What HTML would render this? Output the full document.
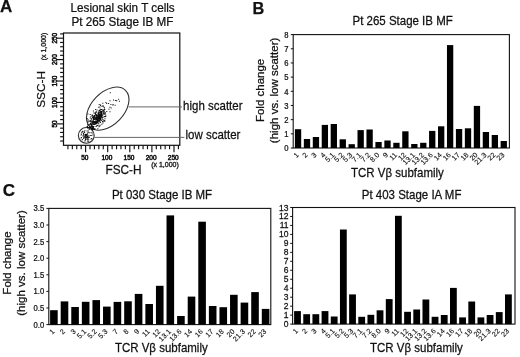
<!DOCTYPE html>
<html><head><meta charset="utf-8"><style>
html,body{margin:0;padding:0;background:#fff;}
svg{display:block;filter:blur(0.35px);}
text{font-family:"Liberation Sans", sans-serif;stroke:#111;stroke-width:0.25px;}
</style></head><body>
<svg width="520" height="357" viewBox="0 0 520 357">
<rect width="520" height="357" fill="#fff"/>
<text x="0.00" y="12.20" font-size="17" text-anchor="start" font-weight="bold" fill="#111">A</text>
<text x="252.40" y="14.40" font-size="16.3" text-anchor="start" font-weight="bold" fill="#111">B</text>
<text x="2.80" y="196.30" font-size="17" text-anchor="start" font-weight="bold" fill="#111">C</text>
<text x="0" y="0" font-size="12.2" text-anchor="middle" transform="translate(122.60 12.00) scale(0.9589930434782608 1)" fill="#111">Lesional skin T cells</text>
<text x="0" y="0" font-size="12.2" text-anchor="middle" transform="translate(122.40 26.00) scale(0.9589930434782608 1)" fill="#111">Pt 265 Stage IB MF</text>
<rect x="63.5" y="33.0" width="116.30000000000001" height="112.30000000000001" fill="none" stroke="#111" stroke-width="1.2"/>
<line x1="60.10" y1="141.02" x2="63.50" y2="141.02" stroke="#111" stroke-width="1.15"/>
<line x1="67.92" y1="145.30" x2="67.92" y2="149.30" stroke="#111" stroke-width="1.15"/>
<line x1="60.10" y1="136.73" x2="63.50" y2="136.73" stroke="#111" stroke-width="1.15"/>
<line x1="72.34" y1="145.30" x2="72.34" y2="149.30" stroke="#111" stroke-width="1.15"/>
<line x1="60.10" y1="132.45" x2="63.50" y2="132.45" stroke="#111" stroke-width="1.15"/>
<line x1="76.76" y1="145.30" x2="76.76" y2="149.30" stroke="#111" stroke-width="1.15"/>
<line x1="60.10" y1="128.16" x2="63.50" y2="128.16" stroke="#111" stroke-width="1.15"/>
<line x1="81.18" y1="145.30" x2="81.18" y2="149.30" stroke="#111" stroke-width="1.15"/>
<line x1="56.70" y1="123.88" x2="63.50" y2="123.88" stroke="#111" stroke-width="1.15"/>
<line x1="85.60" y1="145.30" x2="85.60" y2="152.30" stroke="#111" stroke-width="1.15"/>
<line x1="60.10" y1="119.59" x2="63.50" y2="119.59" stroke="#111" stroke-width="1.15"/>
<line x1="90.02" y1="145.30" x2="90.02" y2="149.30" stroke="#111" stroke-width="1.15"/>
<line x1="60.10" y1="115.31" x2="63.50" y2="115.31" stroke="#111" stroke-width="1.15"/>
<line x1="94.44" y1="145.30" x2="94.44" y2="149.30" stroke="#111" stroke-width="1.15"/>
<line x1="60.10" y1="111.02" x2="63.50" y2="111.02" stroke="#111" stroke-width="1.15"/>
<line x1="98.86" y1="145.30" x2="98.86" y2="149.30" stroke="#111" stroke-width="1.15"/>
<line x1="60.10" y1="106.74" x2="63.50" y2="106.74" stroke="#111" stroke-width="1.15"/>
<line x1="103.28" y1="145.30" x2="103.28" y2="149.30" stroke="#111" stroke-width="1.15"/>
<line x1="56.70" y1="102.45" x2="63.50" y2="102.45" stroke="#111" stroke-width="1.15"/>
<line x1="107.70" y1="145.30" x2="107.70" y2="152.30" stroke="#111" stroke-width="1.15"/>
<line x1="60.10" y1="98.17" x2="63.50" y2="98.17" stroke="#111" stroke-width="1.15"/>
<line x1="112.12" y1="145.30" x2="112.12" y2="149.30" stroke="#111" stroke-width="1.15"/>
<line x1="60.10" y1="93.88" x2="63.50" y2="93.88" stroke="#111" stroke-width="1.15"/>
<line x1="116.54" y1="145.30" x2="116.54" y2="149.30" stroke="#111" stroke-width="1.15"/>
<line x1="60.10" y1="89.60" x2="63.50" y2="89.60" stroke="#111" stroke-width="1.15"/>
<line x1="120.96" y1="145.30" x2="120.96" y2="149.30" stroke="#111" stroke-width="1.15"/>
<line x1="60.10" y1="85.31" x2="63.50" y2="85.31" stroke="#111" stroke-width="1.15"/>
<line x1="125.38" y1="145.30" x2="125.38" y2="149.30" stroke="#111" stroke-width="1.15"/>
<line x1="56.70" y1="81.03" x2="63.50" y2="81.03" stroke="#111" stroke-width="1.15"/>
<line x1="129.80" y1="145.30" x2="129.80" y2="152.30" stroke="#111" stroke-width="1.15"/>
<line x1="60.10" y1="76.74" x2="63.50" y2="76.74" stroke="#111" stroke-width="1.15"/>
<line x1="134.22" y1="145.30" x2="134.22" y2="149.30" stroke="#111" stroke-width="1.15"/>
<line x1="60.10" y1="72.46" x2="63.50" y2="72.46" stroke="#111" stroke-width="1.15"/>
<line x1="138.64" y1="145.30" x2="138.64" y2="149.30" stroke="#111" stroke-width="1.15"/>
<line x1="60.10" y1="68.17" x2="63.50" y2="68.17" stroke="#111" stroke-width="1.15"/>
<line x1="143.06" y1="145.30" x2="143.06" y2="149.30" stroke="#111" stroke-width="1.15"/>
<line x1="60.10" y1="63.89" x2="63.50" y2="63.89" stroke="#111" stroke-width="1.15"/>
<line x1="147.48" y1="145.30" x2="147.48" y2="149.30" stroke="#111" stroke-width="1.15"/>
<line x1="56.70" y1="59.60" x2="63.50" y2="59.60" stroke="#111" stroke-width="1.15"/>
<line x1="151.90" y1="145.30" x2="151.90" y2="152.30" stroke="#111" stroke-width="1.15"/>
<line x1="60.10" y1="55.32" x2="63.50" y2="55.32" stroke="#111" stroke-width="1.15"/>
<line x1="156.32" y1="145.30" x2="156.32" y2="149.30" stroke="#111" stroke-width="1.15"/>
<line x1="60.10" y1="51.03" x2="63.50" y2="51.03" stroke="#111" stroke-width="1.15"/>
<line x1="160.74" y1="145.30" x2="160.74" y2="149.30" stroke="#111" stroke-width="1.15"/>
<line x1="60.10" y1="46.75" x2="63.50" y2="46.75" stroke="#111" stroke-width="1.15"/>
<line x1="165.16" y1="145.30" x2="165.16" y2="149.30" stroke="#111" stroke-width="1.15"/>
<line x1="60.10" y1="42.46" x2="63.50" y2="42.46" stroke="#111" stroke-width="1.15"/>
<line x1="169.58" y1="145.30" x2="169.58" y2="149.30" stroke="#111" stroke-width="1.15"/>
<line x1="56.70" y1="38.18" x2="63.50" y2="38.18" stroke="#111" stroke-width="1.15"/>
<line x1="174.00" y1="145.30" x2="174.00" y2="152.30" stroke="#111" stroke-width="1.15"/>
<line x1="60.10" y1="33.89" x2="63.50" y2="33.89" stroke="#111" stroke-width="1.15"/>
<line x1="178.42" y1="145.30" x2="178.42" y2="149.30" stroke="#111" stroke-width="1.15"/>
<text x="57.30" y="123.88" font-size="6.5" text-anchor="middle" transform="rotate(-90 57.30 123.88)" fill="#111" style="stroke-width:0.5px">50</text>
<text x="84.80" y="160.30" font-size="6.5" text-anchor="middle" fill="#111" style="stroke-width:0.5px">50</text>
<text x="57.30" y="102.45" font-size="6.5" text-anchor="middle" transform="rotate(-90 57.30 102.45)" fill="#111" style="stroke-width:0.5px">100</text>
<text x="106.90" y="160.30" font-size="6.5" text-anchor="middle" fill="#111" style="stroke-width:0.5px">100</text>
<text x="57.30" y="81.03" font-size="6.5" text-anchor="middle" transform="rotate(-90 57.30 81.03)" fill="#111" style="stroke-width:0.5px">150</text>
<text x="129.00" y="160.30" font-size="6.5" text-anchor="middle" fill="#111" style="stroke-width:0.5px">150</text>
<text x="57.30" y="59.60" font-size="6.5" text-anchor="middle" transform="rotate(-90 57.30 59.60)" fill="#111" style="stroke-width:0.5px">200</text>
<text x="151.10" y="160.30" font-size="6.5" text-anchor="middle" fill="#111" style="stroke-width:0.5px">200</text>
<text x="57.30" y="38.18" font-size="6.5" text-anchor="middle" transform="rotate(-90 57.30 38.18)" fill="#111" style="stroke-width:0.5px">250</text>
<text x="173.20" y="160.30" font-size="6.5" text-anchor="middle" fill="#111" style="stroke-width:0.5px">250</text>
<text x="178.80" y="167.40" font-size="7" text-anchor="end" fill="#111" style="stroke-width:0.3px">(x 1,000)</text>
<text x="45.90" y="46.50" font-size="7" text-anchor="middle" transform="rotate(-90 45.90 46.50)" fill="#111" style="stroke-width:0.3px">(x 1,000)</text>
<text x="45.50" y="89.40" font-size="11.8" text-anchor="middle" transform="rotate(-90 45.50 89.40)" fill="#111">SSC-H</text>
<text x="0" y="0" font-size="12.2" text-anchor="middle" transform="translate(123.50 174.00) scale(0.9671895652173914 1)" fill="#111">FSC-H</text>
<ellipse cx="107.73" cy="108.62" rx="25.48" ry="16.25" transform="rotate(-45.9 107.73 108.62)" fill="none" stroke="#333" stroke-width="1.1"/>
<circle cx="86.3" cy="135.4" r="7.9" fill="none" stroke="#333" stroke-width="1.1"/>
<line x1="128.60" y1="106.90" x2="182.00" y2="106.90" stroke="#666" stroke-width="1"/>
<line x1="94.30" y1="137.40" x2="184.40" y2="137.40" stroke="#666" stroke-width="1"/>
<text x="0" y="0" font-size="12.2" text-anchor="start" transform="translate(183.10 110.20) scale(0.9426 1)" fill="#111">high scatter</text>
<text x="0" y="0" font-size="12.2" text-anchor="start" transform="translate(185.50 139.00) scale(0.9426 1)" fill="#111">low scatter</text>
<path d="M85.8 136.9h1v1h-1zM85.9 135.4h1v1h-1zM84.5 135.6h1v1h-1zM88.4 136.8h1v1h-1zM88.3 136.4h1v1h-1zM87.1 136.3h1v1h-1zM83.1 137.5h1v1h-1zM87.3 136.9h1v1h-1zM83.1 132.9h1v1h-1zM84.6 135.2h1v1h-1zM86.9 135.9h1v1h-1zM87.3 134.8h1v1h-1zM86.9 136.7h1v1h-1zM85.0 139.1h1v1h-1zM87.4 138.2h1v1h-1zM85.1 134.7h1v1h-1zM85.6 135.8h1v1h-1zM87.5 136.4h1v1h-1zM85.5 134.3h1v1h-1zM85.3 138.2h1v1h-1zM84.8 136.4h1v1h-1zM87.1 133.3h1v1h-1zM86.4 138.4h1v1h-1zM82.5 135.4h1v1h-1zM86.1 134.5h1v1h-1zM87.2 135.9h1v1h-1zM83.5 137.5h1v1h-1zM87.6 137.7h1v1h-1zM89.0 136.7h1v1h-1zM86.5 133.7h1v1h-1zM87.5 134.9h1v1h-1zM85.4 133.7h1v1h-1zM84.5 135.0h1v1h-1zM88.7 132.3h1v1h-1zM83.5 136.4h1v1h-1zM90.6 132.3h1v1h-1zM84.7 137.5h1v1h-1zM81.2 131.8h1v1h-1zM84.8 140.3h1v1h-1zM80.6 134.6h1v1h-1zM86.9 140.4h1v1h-1zM83.3 134.1h1v1h-1zM84.3 140.4h1v1h-1zM81.9 131.6h1v1h-1zM82.7 135.0h1v1h-1zM87.5 132.0h1v1h-1zM84.5 136.1h1v1h-1zM86.5 136.8h1v1h-1zM84.8 133.9h1v1h-1zM80.9 137.1h1v1h-1zM82.3 130.7h1v1h-1zM80.9 133.4h1v1h-1zM87.8 130.5h1v1h-1zM82.9 133.2h1v1h-1zM84.4 130.2h1v1h-1zM85.8 135.0h1v1h-1zM84.1 132.1h1v1h-1zM86.6 130.5h1v1h-1zM91.2 137.9h1v1h-1zM83.0 133.5h1v1h-1zM81.8 138.9h1v1h-1zM86.7 139.0h1v1h-1zM84.0 131.5h1v1h-1zM90.5 138.5h1v1h-1zM82.6 135.5h1v1h-1zM83.0 137.8h1v1h-1zM92.4 134.5h1v1h-1zM82.5 131.6h1v1h-1zM82.2 131.3h1v1h-1zM87.9 140.7h1v1h-1zM90.8 135.0h1v1h-1zM88.3 139.3h1v1h-1zM80.6 137.4h1v1h-1zM89.6 135.0h1v1h-1zM81.9 139.2h1v1h-1zM96.7 124.9h1v1h-1zM99.5 113.6h1v1h-1zM92.5 129.3h1v1h-1zM94.7 117.5h1v1h-1zM98.7 117.2h1v1h-1zM99.5 109.9h1v1h-1zM103.8 116.1h1v1h-1zM101.2 111.6h1v1h-1zM96.0 123.3h1v1h-1zM97.1 117.9h1v1h-1zM100.9 111.6h1v1h-1zM87.3 127.4h1v1h-1zM91.6 127.7h1v1h-1zM96.2 115.7h1v1h-1zM98.2 119.8h1v1h-1zM99.6 120.3h1v1h-1zM98.5 120.4h1v1h-1zM105.3 114.8h1v1h-1zM96.0 122.7h1v1h-1zM87.3 124.3h1v1h-1zM91.7 128.6h1v1h-1zM92.0 123.5h1v1h-1zM95.6 119.0h1v1h-1zM94.8 121.2h1v1h-1zM102.9 110.6h1v1h-1zM100.5 117.8h1v1h-1zM92.9 116.7h1v1h-1zM96.8 122.6h1v1h-1zM89.2 124.2h1v1h-1zM101.8 115.3h1v1h-1zM98.2 119.7h1v1h-1zM94.4 115.3h1v1h-1zM89.4 123.7h1v1h-1zM98.4 113.2h1v1h-1zM91.4 120.6h1v1h-1zM90.6 124.6h1v1h-1zM93.0 123.9h1v1h-1zM88.7 129.0h1v1h-1zM89.8 117.4h1v1h-1zM98.4 114.6h1v1h-1zM86.5 126.2h1v1h-1zM96.4 116.1h1v1h-1zM100.9 116.2h1v1h-1zM99.5 115.9h1v1h-1zM102.6 113.7h1v1h-1zM93.4 112.4h1v1h-1zM102.5 116.8h1v1h-1zM94.3 118.6h1v1h-1zM99.4 106.6h1v1h-1zM103.5 120.7h1v1h-1zM94.6 123.5h1v1h-1zM102.9 109.9h1v1h-1zM100.4 117.5h1v1h-1zM93.0 121.9h1v1h-1zM99.3 118.5h1v1h-1zM95.8 118.0h1v1h-1zM92.0 121.9h1v1h-1zM99.8 114.6h1v1h-1zM91.5 120.3h1v1h-1zM108.5 108.8h1v1h-1zM92.9 110.6h1v1h-1zM99.7 116.4h1v1h-1zM103.4 111.8h1v1h-1zM97.3 119.5h1v1h-1zM91.7 128.5h1v1h-1zM96.0 115.5h1v1h-1zM105.2 115.9h1v1h-1zM89.9 123.0h1v1h-1zM97.9 117.3h1v1h-1zM92.8 118.1h1v1h-1zM106.3 111.0h1v1h-1zM89.1 120.8h1v1h-1zM104.7 112.7h1v1h-1zM104.7 111.9h1v1h-1zM93.9 122.4h1v1h-1zM87.0 126.1h1v1h-1zM97.4 119.4h1v1h-1zM93.5 121.1h1v1h-1zM98.9 116.9h1v1h-1zM99.2 115.8h1v1h-1zM97.0 121.1h1v1h-1zM94.7 116.5h1v1h-1zM94.2 120.9h1v1h-1zM96.4 119.0h1v1h-1zM96.8 118.5h1v1h-1zM93.1 116.4h1v1h-1zM100.3 118.3h1v1h-1zM97.5 116.0h1v1h-1zM95.8 114.5h1v1h-1zM89.7 126.5h1v1h-1zM94.7 123.6h1v1h-1zM86.7 118.0h1v1h-1zM96.2 125.6h1v1h-1zM92.0 117.3h1v1h-1zM94.8 122.4h1v1h-1zM98.6 116.4h1v1h-1zM103.3 113.1h1v1h-1zM97.7 119.4h1v1h-1zM104.5 112.9h1v1h-1zM97.7 111.8h1v1h-1zM97.5 120.2h1v1h-1zM97.7 121.5h1v1h-1zM100.6 117.3h1v1h-1zM101.3 123.8h1v1h-1zM100.4 112.5h1v1h-1zM102.5 122.6h1v1h-1zM97.1 121.3h1v1h-1zM99.9 114.0h1v1h-1zM92.6 123.6h1v1h-1zM100.2 118.8h1v1h-1zM99.3 114.9h1v1h-1zM100.7 115.5h1v1h-1zM97.3 117.4h1v1h-1zM97.1 120.5h1v1h-1zM91.2 121.6h1v1h-1zM93.2 115.5h1v1h-1zM90.4 116.3h1v1h-1zM95.2 122.2h1v1h-1zM98.3 115.7h1v1h-1zM92.4 116.6h1v1h-1zM104.1 111.3h1v1h-1zM98.4 111.9h1v1h-1zM91.7 115.6h1v1h-1zM101.3 116.6h1v1h-1zM89.5 126.3h1v1h-1zM94.7 112.2h1v1h-1zM87.5 124.1h1v1h-1zM91.0 118.3h1v1h-1zM97.1 118.5h1v1h-1zM100.2 116.8h1v1h-1zM104.4 113.9h1v1h-1zM90.6 122.9h1v1h-1zM90.2 120.8h1v1h-1zM96.1 118.6h1v1h-1zM94.6 113.1h1v1h-1zM91.9 123.5h1v1h-1zM95.0 118.5h1v1h-1zM94.5 117.1h1v1h-1zM99.7 115.8h1v1h-1zM94.6 117.3h1v1h-1zM89.7 113.9h1v1h-1zM93.0 122.5h1v1h-1zM91.5 125.0h1v1h-1zM93.9 115.0h1v1h-1zM94.8 118.7h1v1h-1zM99.4 117.4h1v1h-1zM94.4 116.8h1v1h-1zM95.7 118.7h1v1h-1zM99.7 115.6h1v1h-1zM90.8 118.8h1v1h-1zM93.4 118.4h1v1h-1zM92.2 122.8h1v1h-1zM94.9 120.5h1v1h-1zM97.4 115.2h1v1h-1zM104.0 107.6h1v1h-1zM100.6 113.7h1v1h-1zM95.1 109.0h1v1h-1zM94.3 121.9h1v1h-1zM103.8 119.9h1v1h-1zM100.4 119.2h1v1h-1zM101.3 116.7h1v1h-1zM97.9 115.7h1v1h-1zM95.8 114.0h1v1h-1zM98.4 111.2h1v1h-1zM102.0 121.1h1v1h-1zM95.6 119.2h1v1h-1zM100.6 113.2h1v1h-1zM94.1 122.2h1v1h-1zM100.1 117.0h1v1h-1zM97.5 124.8h1v1h-1zM102.4 111.1h1v1h-1zM96.4 116.2h1v1h-1zM99.9 110.8h1v1h-1zM97.7 114.4h1v1h-1zM95.5 122.5h1v1h-1zM101.2 112.4h1v1h-1zM95.8 122.6h1v1h-1zM96.9 119.0h1v1h-1zM104.4 113.8h1v1h-1zM99.6 124.7h1v1h-1zM98.2 119.6h1v1h-1zM94.0 120.9h1v1h-1zM94.1 129.0h1v1h-1zM98.6 110.1h1v1h-1zM87.4 121.7h1v1h-1zM99.6 112.3h1v1h-1zM95.5 117.9h1v1h-1zM93.5 116.7h1v1h-1zM93.3 115.4h1v1h-1zM96.8 119.1h1v1h-1zM97.6 115.8h1v1h-1zM93.5 122.4h1v1h-1zM98.2 123.2h1v1h-1zM98.9 114.7h1v1h-1zM93.1 118.9h1v1h-1zM92.3 121.6h1v1h-1zM98.6 117.9h1v1h-1zM103.1 119.6h1v1h-1zM93.9 121.3h1v1h-1zM102.3 102.7h1v1h-1zM94.9 120.8h1v1h-1zM97.9 118.3h1v1h-1zM96.4 119.9h1v1h-1zM98.3 119.4h1v1h-1zM87.6 124.7h1v1h-1zM94.1 116.3h1v1h-1zM94.1 123.9h1v1h-1zM95.5 122.2h1v1h-1zM99.8 115.6h1v1h-1zM98.0 115.8h1v1h-1zM91.3 124.2h1v1h-1zM96.8 115.3h1v1h-1zM97.7 120.0h1v1h-1zM94.7 123.2h1v1h-1zM101.8 109.2h1v1h-1zM96.6 117.3h1v1h-1zM102.6 112.2h1v1h-1zM98.1 113.1h1v1h-1zM96.3 118.3h1v1h-1zM93.2 128.5h1v1h-1zM95.7 111.1h1v1h-1zM98.8 114.8h1v1h-1zM98.8 117.0h1v1h-1zM90.6 124.3h1v1h-1zM100.5 110.7h1v1h-1zM89.7 120.1h1v1h-1zM92.8 124.1h1v1h-1zM103.4 111.7h1v1h-1zM102.3 121.3h1v1h-1zM93.0 119.2h1v1h-1zM99.5 116.9h1v1h-1zM90.2 120.4h1v1h-1zM98.0 117.4h1v1h-1zM91.3 123.4h1v1h-1zM95.5 121.4h1v1h-1zM95.8 118.5h1v1h-1zM97.5 121.7h1v1h-1zM100.6 111.5h1v1h-1zM97.7 113.2h1v1h-1zM98.3 119.3h1v1h-1zM101.0 111.0h1v1h-1zM96.6 118.9h1v1h-1zM91.1 124.7h1v1h-1zM94.8 121.8h1v1h-1zM87.9 119.4h1v1h-1zM97.1 118.5h1v1h-1zM96.4 122.2h1v1h-1zM94.1 118.3h1v1h-1zM94.6 113.2h1v1h-1zM93.9 121.1h1v1h-1zM99.1 114.2h1v1h-1zM96.0 115.7h1v1h-1zM101.2 120.0h1v1h-1zM99.2 125.5h1v1h-1zM94.1 121.0h1v1h-1zM99.3 119.4h1v1h-1zM87.3 119.6h1v1h-1zM100.3 117.1h1v1h-1zM104.5 120.4h1v1h-1zM97.7 117.8h1v1h-1zM100.6 114.9h1v1h-1zM99.6 108.7h1v1h-1zM87.4 113.4h1v1h-1zM98.5 114.0h1v1h-1zM104.5 118.2h1v1h-1zM95.8 117.8h1v1h-1zM92.7 118.8h1v1h-1zM95.6 122.1h1v1h-1zM96.7 118.2h1v1h-1zM97.8 120.6h1v1h-1zM97.9 115.8h1v1h-1zM98.4 115.1h1v1h-1zM95.5 125.9h1v1h-1zM95.9 114.4h1v1h-1zM101.0 114.2h1v1h-1zM94.4 127.9h1v1h-1zM99.6 118.4h1v1h-1zM96.8 117.1h1v1h-1zM93.0 126.7h1v1h-1zM95.9 117.5h1v1h-1zM97.8 116.8h1v1h-1zM98.0 114.6h1v1h-1zM91.5 114.4h1v1h-1zM96.4 121.3h1v1h-1zM100.4 111.8h1v1h-1zM99.5 121.7h1v1h-1zM96.9 121.0h1v1h-1zM102.5 111.1h1v1h-1zM99.2 111.6h1v1h-1zM97.0 117.2h1v1h-1zM99.3 119.8h1v1h-1zM103.5 106.7h1v1h-1zM95.4 121.6h1v1h-1zM93.7 123.7h1v1h-1zM97.8 115.2h1v1h-1zM94.9 113.0h1v1h-1zM95.7 112.1h1v1h-1zM92.7 120.2h1v1h-1zM96.9 121.5h1v1h-1zM95.8 117.1h1v1h-1zM101.9 118.8h1v1h-1zM97.2 118.9h1v1h-1zM101.4 113.4h1v1h-1zM97.3 128.3h1v1h-1zM99.9 105.0h1v1h-1zM97.2 119.1h1v1h-1zM101.4 115.3h1v1h-1zM93.1 117.4h1v1h-1zM99.1 119.7h1v1h-1zM90.2 121.0h1v1h-1zM92.0 114.7h1v1h-1zM94.5 118.5h1v1h-1zM96.5 115.0h1v1h-1zM92.4 121.3h1v1h-1zM94.7 117.2h1v1h-1zM98.1 119.5h1v1h-1zM104.4 116.3h1v1h-1zM92.7 120.8h1v1h-1zM91.7 132.4h1v1h-1zM93.7 121.3h1v1h-1zM95.2 113.4h1v1h-1zM98.0 116.2h1v1h-1zM90.5 126.6h1v1h-1zM96.5 109.6h1v1h-1zM99.8 115.1h1v1h-1zM99.1 117.0h1v1h-1zM100.6 112.2h1v1h-1zM98.6 113.7h1v1h-1zM97.2 113.6h1v1h-1zM99.9 121.9h1v1h-1zM97.6 116.0h1v1h-1zM90.5 121.7h1v1h-1zM99.2 119.1h1v1h-1zM99.1 117.3h1v1h-1zM99.3 120.9h1v1h-1zM93.8 118.9h1v1h-1zM99.7 114.5h1v1h-1zM94.1 118.3h1v1h-1zM96.9 120.5h1v1h-1zM95.0 114.4h1v1h-1zM98.3 116.7h1v1h-1zM94.5 123.9h1v1h-1zM94.6 118.8h1v1h-1zM102.2 117.2h1v1h-1zM94.9 122.0h1v1h-1zM98.4 126.3h1v1h-1zM97.3 122.5h1v1h-1zM95.9 122.5h1v1h-1zM98.7 103.9h1v1h-1zM96.0 121.0h1v1h-1zM94.6 117.4h1v1h-1zM104.3 109.1h1v1h-1zM92.4 126.9h1v1h-1zM92.8 127.7h1v1h-1zM94.7 121.0h1v1h-1zM101.2 113.0h1v1h-1zM87.6 121.0h1v1h-1zM102.3 114.5h1v1h-1zM95.4 123.3h1v1h-1zM99.6 117.3h1v1h-1zM110.4 103.9h1v1h-1zM108.1 102.9h1v1h-1zM114.9 99.9h1v1h-1zM103.5 108.9h1v1h-1zM118.1 98.8h1v1h-1zM102.4 110.0h1v1h-1zM109.8 92.3h1v1h-1zM114.6 104.7h1v1h-1zM116.0 100.3h1v1h-1zM109.5 111.3h1v1h-1zM110.7 107.4h1v1h-1zM100.1 104.6h1v1h-1zM102.2 105.4h1v1h-1zM109.4 106.8h1v1h-1zM103.9 109.4h1v1h-1zM118.9 100.7h1v1h-1zM98.2 106.8h1v1h-1zM100.8 109.1h1v1h-1zM116.3 100.2h1v1h-1zM112.2 104.6h1v1h-1zM109.5 100.3h1v1h-1zM112.8 104.3h1v1h-1zM106.2 103.0h1v1h-1zM105.4 102.0h1v1h-1zM100.0 108.8h1v1h-1zM103.0 105.6h1v1h-1zM113.0 99.5h1v1h-1zM101.4 105.7h1v1h-1zM90.2 126.8h1v1h-1zM89.9 126.9h1v1h-1zM86.8 126.5h1v1h-1zM88.8 128.5h1v1h-1zM92.1 127.4h1v1h-1zM91.7 126.1h1v1h-1zM91.3 127.5h1v1h-1zM89.8 127.2h1v1h-1zM92.9 126.0h1v1h-1zM93.3 126.1h1v1h-1zM90.8 125.7h1v1h-1zM90.4 123.7h1v1h-1zM92.6 128.8h1v1h-1zM87.8 126.9h1v1h-1zM91.1 125.5h1v1h-1zM89.0 126.7h1v1h-1zM92.1 126.6h1v1h-1zM91.4 129.2h1v1h-1zM91.7 125.9h1v1h-1zM92.3 125.7h1v1h-1zM88.6 127.3h1v1h-1zM90.7 128.3h1v1h-1z" fill="#000" fill-opacity="0.95"/>
<rect x="293.2" y="34.6" width="216.2" height="113.4" fill="none" stroke="#111" stroke-width="1.1"/>
<line x1="290.80" y1="148.00" x2="293.20" y2="148.00" stroke="#111" stroke-width="1"/>
<text x="0" y="0" font-size="8.5" text-anchor="end" transform="translate(288.50 151.30) scale(0.9 1)" fill="#111">0</text>
<line x1="290.80" y1="133.82" x2="293.20" y2="133.82" stroke="#111" stroke-width="1"/>
<text x="0" y="0" font-size="8.5" text-anchor="end" transform="translate(288.50 137.12) scale(0.9 1)" fill="#111">1</text>
<line x1="290.80" y1="119.65" x2="293.20" y2="119.65" stroke="#111" stroke-width="1"/>
<text x="0" y="0" font-size="8.5" text-anchor="end" transform="translate(288.50 122.95) scale(0.9 1)" fill="#111">2</text>
<line x1="290.80" y1="105.47" x2="293.20" y2="105.47" stroke="#111" stroke-width="1"/>
<text x="0" y="0" font-size="8.5" text-anchor="end" transform="translate(288.50 108.77) scale(0.9 1)" fill="#111">3</text>
<line x1="290.80" y1="91.30" x2="293.20" y2="91.30" stroke="#111" stroke-width="1"/>
<text x="0" y="0" font-size="8.5" text-anchor="end" transform="translate(288.50 94.60) scale(0.9 1)" fill="#111">4</text>
<line x1="290.80" y1="77.12" x2="293.20" y2="77.12" stroke="#111" stroke-width="1"/>
<text x="0" y="0" font-size="8.5" text-anchor="end" transform="translate(288.50 80.42) scale(0.9 1)" fill="#111">5</text>
<line x1="290.80" y1="62.95" x2="293.20" y2="62.95" stroke="#111" stroke-width="1"/>
<text x="0" y="0" font-size="8.5" text-anchor="end" transform="translate(288.50 66.25) scale(0.9 1)" fill="#111">6</text>
<line x1="290.80" y1="48.77" x2="293.20" y2="48.77" stroke="#111" stroke-width="1"/>
<text x="0" y="0" font-size="8.5" text-anchor="end" transform="translate(288.50 52.07) scale(0.9 1)" fill="#111">7</text>
<line x1="290.80" y1="34.60" x2="293.20" y2="34.60" stroke="#111" stroke-width="1"/>
<text x="0" y="0" font-size="8.5" text-anchor="end" transform="translate(288.50 37.90) scale(0.9 1)" fill="#111">8</text>
<rect x="294.90" y="129.20" width="6.30" height="18.80" fill="#000"/>
<text x="299.25" y="155.40" font-size="7.2" text-anchor="end" transform="rotate(-45 299.25 155.40)" fill="#111" style="stroke-width:0.1px">1</text>
<rect x="303.84" y="139.00" width="6.30" height="9.00" fill="#000"/>
<text x="308.19" y="155.40" font-size="7.2" text-anchor="end" transform="rotate(-45 308.19 155.40)" fill="#111" style="stroke-width:0.1px">2</text>
<rect x="312.79" y="137.00" width="6.30" height="11.00" fill="#000"/>
<text x="317.14" y="155.40" font-size="7.2" text-anchor="end" transform="rotate(-45 317.14 155.40)" fill="#111" style="stroke-width:0.1px">3</text>
<rect x="321.73" y="124.90" width="6.30" height="23.10" fill="#000"/>
<text x="326.08" y="155.40" font-size="7.2" text-anchor="end" transform="rotate(-45 326.08 155.40)" fill="#111" style="stroke-width:0.1px">4</text>
<rect x="330.68" y="124.00" width="6.30" height="24.00" fill="#000"/>
<text x="335.03" y="155.40" font-size="7.2" text-anchor="end" transform="rotate(-45 335.03 155.40)" fill="#111" style="stroke-width:0.1px">5.1</text>
<rect x="339.62" y="139.30" width="6.30" height="8.70" fill="#000"/>
<text x="343.97" y="155.40" font-size="7.2" text-anchor="end" transform="rotate(-45 343.97 155.40)" fill="#111" style="stroke-width:0.1px">5.2</text>
<rect x="348.57" y="144.20" width="6.30" height="3.80" fill="#000"/>
<text x="352.92" y="155.40" font-size="7.2" text-anchor="end" transform="rotate(-45 352.92 155.40)" fill="#111" style="stroke-width:0.1px">5.3</text>
<rect x="357.51" y="130.10" width="6.30" height="17.90" fill="#000"/>
<text x="361.86" y="155.40" font-size="7.2" text-anchor="end" transform="rotate(-45 361.86 155.40)" fill="#111" style="stroke-width:0.1px">7.1</text>
<rect x="366.46" y="129.50" width="6.30" height="18.50" fill="#000"/>
<text x="370.81" y="155.40" font-size="7.2" text-anchor="end" transform="rotate(-45 370.81 155.40)" fill="#111" style="stroke-width:0.1px">7.2</text>
<rect x="375.40" y="142.00" width="6.30" height="6.00" fill="#000"/>
<text x="379.75" y="155.40" font-size="7.2" text-anchor="end" transform="rotate(-45 379.75 155.40)" fill="#111" style="stroke-width:0.1px">8.0</text>
<rect x="384.35" y="140.50" width="6.30" height="7.50" fill="#000"/>
<text x="388.70" y="155.40" font-size="7.2" text-anchor="end" transform="rotate(-45 388.70 155.40)" fill="#111" style="stroke-width:0.1px">9</text>
<rect x="393.29" y="142.80" width="6.30" height="5.20" fill="#000"/>
<text x="397.64" y="155.40" font-size="7.2" text-anchor="end" transform="rotate(-45 397.64 155.40)" fill="#111" style="stroke-width:0.1px">11</text>
<rect x="402.24" y="131.30" width="6.30" height="16.70" fill="#000"/>
<text x="406.59" y="155.40" font-size="7.2" text-anchor="end" transform="rotate(-45 406.59 155.40)" fill="#111" style="stroke-width:0.1px">12</text>
<rect x="411.18" y="144.00" width="6.30" height="4.00" fill="#000"/>
<text x="415.53" y="155.40" font-size="7.2" text-anchor="end" transform="rotate(-45 415.53 155.40)" fill="#111" style="stroke-width:0.1px">13.1</text>
<rect x="420.13" y="142.80" width="6.30" height="5.20" fill="#000"/>
<text x="424.48" y="155.40" font-size="7.2" text-anchor="end" transform="rotate(-45 424.48 155.40)" fill="#111" style="stroke-width:0.1px">13.2</text>
<rect x="429.07" y="130.90" width="6.30" height="17.10" fill="#000"/>
<text x="433.42" y="155.40" font-size="7.2" text-anchor="end" transform="rotate(-45 433.42 155.40)" fill="#111" style="stroke-width:0.1px">13.6</text>
<rect x="438.02" y="126.30" width="6.30" height="21.70" fill="#000"/>
<text x="442.37" y="155.40" font-size="7.2" text-anchor="end" transform="rotate(-45 442.37 155.40)" fill="#111" style="stroke-width:0.1px">14</text>
<rect x="446.96" y="45.10" width="6.30" height="102.90" fill="#000"/>
<text x="451.31" y="155.40" font-size="7.2" text-anchor="end" transform="rotate(-45 451.31 155.40)" fill="#111" style="stroke-width:0.1px">16</text>
<rect x="455.91" y="129.00" width="6.30" height="19.00" fill="#000"/>
<text x="460.26" y="155.40" font-size="7.2" text-anchor="end" transform="rotate(-45 460.26 155.40)" fill="#111" style="stroke-width:0.1px">17</text>
<rect x="464.86" y="128.30" width="6.30" height="19.70" fill="#000"/>
<text x="469.20" y="155.40" font-size="7.2" text-anchor="end" transform="rotate(-45 469.20 155.40)" fill="#111" style="stroke-width:0.1px">18</text>
<rect x="473.80" y="105.90" width="6.30" height="42.10" fill="#000"/>
<text x="478.15" y="155.40" font-size="7.2" text-anchor="end" transform="rotate(-45 478.15 155.40)" fill="#111" style="stroke-width:0.1px">20</text>
<rect x="482.75" y="132.00" width="6.30" height="16.00" fill="#000"/>
<text x="487.09" y="155.40" font-size="7.2" text-anchor="end" transform="rotate(-45 487.09 155.40)" fill="#111" style="stroke-width:0.1px">21.3</text>
<rect x="491.69" y="135.00" width="6.30" height="13.00" fill="#000"/>
<text x="496.04" y="155.40" font-size="7.2" text-anchor="end" transform="rotate(-45 496.04 155.40)" fill="#111" style="stroke-width:0.1px">22</text>
<rect x="500.63" y="141.00" width="6.30" height="7.00" fill="#000"/>
<text x="504.98" y="155.40" font-size="7.2" text-anchor="end" transform="rotate(-45 504.98 155.40)" fill="#111" style="stroke-width:0.1px">23</text>
<text x="0" y="0" font-size="12.2" text-anchor="middle" transform="translate(402.60 25.20) scale(0.9426 1)" fill="#111">Pt 265 Stage IB MF</text>
<text x="0" y="0" font-size="12.2" text-anchor="middle" transform="translate(397.40 176.90) scale(0.9426 1)" fill="#111">TCR V&#946; subfamily</text>
<text x="264.10" y="90.40" font-size="11.5" text-anchor="middle" transform="rotate(-90 264.10 90.40)" fill="#111">Fold change</text>
<text x="277.80" y="90.40" font-size="11.5" text-anchor="middle" transform="rotate(-90 277.80 90.40)" fill="#111">(high vs. low scatter)</text>
<rect x="48.8" y="208.4" width="222.0" height="116.20000000000002" fill="none" stroke="#111" stroke-width="1.1"/>
<line x1="46.40" y1="324.60" x2="48.80" y2="324.60" stroke="#111" stroke-width="1"/>
<text x="0" y="0" font-size="8.5" text-anchor="end" transform="translate(44.20 327.60) scale(0.9 1)" fill="#111">0.0</text>
<line x1="46.40" y1="308.00" x2="48.80" y2="308.00" stroke="#111" stroke-width="1"/>
<text x="0" y="0" font-size="8.5" text-anchor="end" transform="translate(44.20 311.00) scale(0.9 1)" fill="#111">0.5</text>
<line x1="46.40" y1="291.40" x2="48.80" y2="291.40" stroke="#111" stroke-width="1"/>
<text x="0" y="0" font-size="8.5" text-anchor="end" transform="translate(44.20 294.40) scale(0.9 1)" fill="#111">1.0</text>
<line x1="46.40" y1="274.80" x2="48.80" y2="274.80" stroke="#111" stroke-width="1"/>
<text x="0" y="0" font-size="8.5" text-anchor="end" transform="translate(44.20 277.80) scale(0.9 1)" fill="#111">1.5</text>
<line x1="46.40" y1="258.20" x2="48.80" y2="258.20" stroke="#111" stroke-width="1"/>
<text x="0" y="0" font-size="8.5" text-anchor="end" transform="translate(44.20 261.20) scale(0.9 1)" fill="#111">2.0</text>
<line x1="46.40" y1="241.60" x2="48.80" y2="241.60" stroke="#111" stroke-width="1"/>
<text x="0" y="0" font-size="8.5" text-anchor="end" transform="translate(44.20 244.60) scale(0.9 1)" fill="#111">2.5</text>
<line x1="46.40" y1="225.00" x2="48.80" y2="225.00" stroke="#111" stroke-width="1"/>
<text x="0" y="0" font-size="8.5" text-anchor="end" transform="translate(44.20 228.00) scale(0.9 1)" fill="#111">3.0</text>
<line x1="46.40" y1="208.40" x2="48.80" y2="208.40" stroke="#111" stroke-width="1"/>
<text x="0" y="0" font-size="8.5" text-anchor="end" transform="translate(44.20 211.40) scale(0.9 1)" fill="#111">3.5</text>
<rect x="50.10" y="310.20" width="7.60" height="14.40" fill="#000"/>
<text x="55.10" y="332.00" font-size="7.2" text-anchor="end" transform="rotate(-45 55.10 332.00)" fill="#111" style="stroke-width:0.1px">1</text>
<rect x="60.69" y="301.40" width="7.60" height="23.20" fill="#000"/>
<text x="65.69" y="332.00" font-size="7.2" text-anchor="end" transform="rotate(-45 65.69 332.00)" fill="#111" style="stroke-width:0.1px">2</text>
<rect x="71.27" y="307.00" width="7.60" height="17.60" fill="#000"/>
<text x="76.27" y="332.00" font-size="7.2" text-anchor="end" transform="rotate(-45 76.27 332.00)" fill="#111" style="stroke-width:0.1px">3</text>
<rect x="81.86" y="301.80" width="7.60" height="22.80" fill="#000"/>
<text x="86.86" y="332.00" font-size="7.2" text-anchor="end" transform="rotate(-45 86.86 332.00)" fill="#111" style="stroke-width:0.1px">5.1</text>
<rect x="92.44" y="300.10" width="7.60" height="24.50" fill="#000"/>
<text x="97.44" y="332.00" font-size="7.2" text-anchor="end" transform="rotate(-45 97.44 332.00)" fill="#111" style="stroke-width:0.1px">5.2</text>
<rect x="103.03" y="306.60" width="7.60" height="18.00" fill="#000"/>
<text x="108.03" y="332.00" font-size="7.2" text-anchor="end" transform="rotate(-45 108.03 332.00)" fill="#111" style="stroke-width:0.1px">5.3</text>
<rect x="113.61" y="301.90" width="7.60" height="22.70" fill="#000"/>
<text x="118.61" y="332.00" font-size="7.2" text-anchor="end" transform="rotate(-45 118.61 332.00)" fill="#111" style="stroke-width:0.1px">7</text>
<rect x="124.19" y="301.30" width="7.60" height="23.30" fill="#000"/>
<text x="129.19" y="332.00" font-size="7.2" text-anchor="end" transform="rotate(-45 129.19 332.00)" fill="#111" style="stroke-width:0.1px">8</text>
<rect x="134.78" y="293.90" width="7.60" height="30.70" fill="#000"/>
<text x="139.78" y="332.00" font-size="7.2" text-anchor="end" transform="rotate(-45 139.78 332.00)" fill="#111" style="stroke-width:0.1px">9</text>
<rect x="145.37" y="304.00" width="7.60" height="20.60" fill="#000"/>
<text x="150.37" y="332.00" font-size="7.2" text-anchor="end" transform="rotate(-45 150.37 332.00)" fill="#111" style="stroke-width:0.1px">11</text>
<rect x="155.95" y="285.80" width="7.60" height="38.80" fill="#000"/>
<text x="160.95" y="332.00" font-size="7.2" text-anchor="end" transform="rotate(-45 160.95 332.00)" fill="#111" style="stroke-width:0.1px">12</text>
<rect x="166.53" y="215.40" width="7.60" height="109.20" fill="#000"/>
<text x="171.53" y="332.00" font-size="7.2" text-anchor="end" transform="rotate(-45 171.53 332.00)" fill="#111" style="stroke-width:0.1px">13.1</text>
<rect x="177.12" y="316.00" width="7.60" height="8.60" fill="#000"/>
<text x="182.12" y="332.00" font-size="7.2" text-anchor="end" transform="rotate(-45 182.12 332.00)" fill="#111" style="stroke-width:0.1px">13.6</text>
<rect x="187.71" y="296.60" width="7.60" height="28.00" fill="#000"/>
<text x="192.71" y="332.00" font-size="7.2" text-anchor="end" transform="rotate(-45 192.71 332.00)" fill="#111" style="stroke-width:0.1px">14</text>
<rect x="198.29" y="221.70" width="7.60" height="102.90" fill="#000"/>
<text x="203.29" y="332.00" font-size="7.2" text-anchor="end" transform="rotate(-45 203.29 332.00)" fill="#111" style="stroke-width:0.1px">16</text>
<rect x="208.88" y="306.00" width="7.60" height="18.60" fill="#000"/>
<text x="213.88" y="332.00" font-size="7.2" text-anchor="end" transform="rotate(-45 213.88 332.00)" fill="#111" style="stroke-width:0.1px">17</text>
<rect x="219.46" y="307.20" width="7.60" height="17.40" fill="#000"/>
<text x="224.46" y="332.00" font-size="7.2" text-anchor="end" transform="rotate(-45 224.46 332.00)" fill="#111" style="stroke-width:0.1px">18</text>
<rect x="230.05" y="294.80" width="7.60" height="29.80" fill="#000"/>
<text x="235.05" y="332.00" font-size="7.2" text-anchor="end" transform="rotate(-45 235.05 332.00)" fill="#111" style="stroke-width:0.1px">20</text>
<rect x="240.63" y="302.60" width="7.60" height="22.00" fill="#000"/>
<text x="245.63" y="332.00" font-size="7.2" text-anchor="end" transform="rotate(-45 245.63 332.00)" fill="#111" style="stroke-width:0.1px">21.3</text>
<rect x="251.22" y="292.10" width="7.60" height="32.50" fill="#000"/>
<text x="256.22" y="332.00" font-size="7.2" text-anchor="end" transform="rotate(-45 256.22 332.00)" fill="#111" style="stroke-width:0.1px">22</text>
<rect x="261.80" y="308.90" width="7.60" height="15.70" fill="#000"/>
<text x="266.80" y="332.00" font-size="7.2" text-anchor="end" transform="rotate(-45 266.80 332.00)" fill="#111" style="stroke-width:0.1px">23</text>
<text x="0" y="0" font-size="12.2" text-anchor="middle" transform="translate(162.00 199.10) scale(0.9426 1)" fill="#111">Pt 030 Stage IB MF</text>
<text x="0" y="0" font-size="12.2" text-anchor="middle" transform="translate(161.30 351.90) scale(0.9426 1)" fill="#111">TCR V&#946; subfamily</text>
<text x="10.90" y="263.00" font-size="11.5" text-anchor="middle" transform="rotate(-90 10.90 263.00)" fill="#111">Fold change</text>
<text x="25.30" y="263.00" font-size="11.5" text-anchor="middle" transform="rotate(-90 25.30 263.00)" fill="#111">(high vs. low scatter)</text>
<rect x="292.6" y="207.5" width="222.39999999999998" height="116.60000000000002" fill="none" stroke="#111" stroke-width="1.1"/>
<line x1="290.20" y1="324.10" x2="292.60" y2="324.10" stroke="#111" stroke-width="1"/>
<text x="0" y="0" font-size="9.3" text-anchor="end" transform="translate(288.60 327.10) scale(0.92 1)" fill="#111">0</text>
<line x1="290.20" y1="315.13" x2="292.60" y2="315.13" stroke="#111" stroke-width="1"/>
<text x="0" y="0" font-size="9.3" text-anchor="end" transform="translate(288.60 318.13) scale(0.92 1)" fill="#111">1</text>
<line x1="290.20" y1="306.16" x2="292.60" y2="306.16" stroke="#111" stroke-width="1"/>
<text x="0" y="0" font-size="9.3" text-anchor="end" transform="translate(288.60 309.16) scale(0.92 1)" fill="#111">2</text>
<line x1="290.20" y1="297.19" x2="292.60" y2="297.19" stroke="#111" stroke-width="1"/>
<text x="0" y="0" font-size="9.3" text-anchor="end" transform="translate(288.60 300.19) scale(0.92 1)" fill="#111">3</text>
<line x1="290.20" y1="288.22" x2="292.60" y2="288.22" stroke="#111" stroke-width="1"/>
<text x="0" y="0" font-size="9.3" text-anchor="end" transform="translate(288.60 291.22) scale(0.92 1)" fill="#111">4</text>
<line x1="290.20" y1="279.25" x2="292.60" y2="279.25" stroke="#111" stroke-width="1"/>
<text x="0" y="0" font-size="9.3" text-anchor="end" transform="translate(288.60 282.25) scale(0.92 1)" fill="#111">5</text>
<line x1="290.20" y1="270.28" x2="292.60" y2="270.28" stroke="#111" stroke-width="1"/>
<text x="0" y="0" font-size="9.3" text-anchor="end" transform="translate(288.60 273.28) scale(0.92 1)" fill="#111">6</text>
<line x1="290.20" y1="261.32" x2="292.60" y2="261.32" stroke="#111" stroke-width="1"/>
<text x="0" y="0" font-size="9.3" text-anchor="end" transform="translate(288.60 264.32) scale(0.92 1)" fill="#111">7</text>
<line x1="290.20" y1="252.35" x2="292.60" y2="252.35" stroke="#111" stroke-width="1"/>
<text x="0" y="0" font-size="9.3" text-anchor="end" transform="translate(288.60 255.35) scale(0.92 1)" fill="#111">8</text>
<line x1="290.20" y1="243.38" x2="292.60" y2="243.38" stroke="#111" stroke-width="1"/>
<text x="0" y="0" font-size="9.3" text-anchor="end" transform="translate(288.60 246.38) scale(0.92 1)" fill="#111">9</text>
<line x1="290.20" y1="234.41" x2="292.60" y2="234.41" stroke="#111" stroke-width="1"/>
<text x="0" y="0" font-size="9.3" text-anchor="end" transform="translate(288.60 237.41) scale(0.92 1)" fill="#111">10</text>
<line x1="290.20" y1="225.44" x2="292.60" y2="225.44" stroke="#111" stroke-width="1"/>
<text x="0" y="0" font-size="9.3" text-anchor="end" transform="translate(288.60 228.44) scale(0.92 1)" fill="#111">11</text>
<line x1="290.20" y1="216.47" x2="292.60" y2="216.47" stroke="#111" stroke-width="1"/>
<text x="0" y="0" font-size="9.3" text-anchor="end" transform="translate(288.60 219.47) scale(0.92 1)" fill="#111">12</text>
<line x1="290.20" y1="207.50" x2="292.60" y2="207.50" stroke="#111" stroke-width="1"/>
<text x="0" y="0" font-size="9.3" text-anchor="end" transform="translate(288.60 210.50) scale(0.92 1)" fill="#111">13</text>
<rect x="294.10" y="311.10" width="6.80" height="13.00" fill="#000"/>
<text x="298.70" y="331.50" font-size="7.2" text-anchor="end" transform="rotate(-45 298.70 331.50)" fill="#111" style="stroke-width:0.1px">1</text>
<rect x="303.27" y="314.20" width="6.80" height="9.90" fill="#000"/>
<text x="307.87" y="331.50" font-size="7.2" text-anchor="end" transform="rotate(-45 307.87 331.50)" fill="#111" style="stroke-width:0.1px">2</text>
<rect x="312.44" y="314.20" width="6.80" height="9.90" fill="#000"/>
<text x="317.04" y="331.50" font-size="7.2" text-anchor="end" transform="rotate(-45 317.04 331.50)" fill="#111" style="stroke-width:0.1px">3</text>
<rect x="321.61" y="311.10" width="6.80" height="13.00" fill="#000"/>
<text x="326.21" y="331.50" font-size="7.2" text-anchor="end" transform="rotate(-45 326.21 331.50)" fill="#111" style="stroke-width:0.1px">4</text>
<rect x="330.78" y="316.50" width="6.80" height="7.60" fill="#000"/>
<text x="335.38" y="331.50" font-size="7.2" text-anchor="end" transform="rotate(-45 335.38 331.50)" fill="#111" style="stroke-width:0.1px">5.1</text>
<rect x="339.95" y="229.50" width="6.80" height="94.60" fill="#000"/>
<text x="344.55" y="331.50" font-size="7.2" text-anchor="end" transform="rotate(-45 344.55 331.50)" fill="#111" style="stroke-width:0.1px">5.2</text>
<rect x="349.12" y="294.40" width="6.80" height="29.70" fill="#000"/>
<text x="353.72" y="331.50" font-size="7.2" text-anchor="end" transform="rotate(-45 353.72 331.50)" fill="#111" style="stroke-width:0.1px">5.3</text>
<rect x="358.29" y="316.80" width="6.80" height="7.30" fill="#000"/>
<text x="362.89" y="331.50" font-size="7.2" text-anchor="end" transform="rotate(-45 362.89 331.50)" fill="#111" style="stroke-width:0.1px">7.1</text>
<rect x="367.46" y="314.80" width="6.80" height="9.30" fill="#000"/>
<text x="372.06" y="331.50" font-size="7.2" text-anchor="end" transform="rotate(-45 372.06 331.50)" fill="#111" style="stroke-width:0.1px">7.2</text>
<rect x="376.63" y="310.30" width="6.80" height="13.80" fill="#000"/>
<text x="381.23" y="331.50" font-size="7.2" text-anchor="end" transform="rotate(-45 381.23 331.50)" fill="#111" style="stroke-width:0.1px">8.0</text>
<rect x="385.80" y="299.10" width="6.80" height="25.00" fill="#000"/>
<text x="390.40" y="331.50" font-size="7.2" text-anchor="end" transform="rotate(-45 390.40 331.50)" fill="#111" style="stroke-width:0.1px">9</text>
<rect x="394.97" y="215.80" width="6.80" height="108.30" fill="#000"/>
<text x="399.57" y="331.50" font-size="7.2" text-anchor="end" transform="rotate(-45 399.57 331.50)" fill="#111" style="stroke-width:0.1px">11</text>
<rect x="404.14" y="311.80" width="6.80" height="12.30" fill="#000"/>
<text x="408.74" y="331.50" font-size="7.2" text-anchor="end" transform="rotate(-45 408.74 331.50)" fill="#111" style="stroke-width:0.1px">12</text>
<rect x="413.31" y="309.50" width="6.80" height="14.60" fill="#000"/>
<text x="417.91" y="331.50" font-size="7.2" text-anchor="end" transform="rotate(-45 417.91 331.50)" fill="#111" style="stroke-width:0.1px">13.1</text>
<rect x="422.48" y="299.50" width="6.80" height="24.60" fill="#000"/>
<text x="427.08" y="331.50" font-size="7.2" text-anchor="end" transform="rotate(-45 427.08 331.50)" fill="#111" style="stroke-width:0.1px">13.2</text>
<rect x="431.65" y="316.80" width="6.80" height="7.30" fill="#000"/>
<text x="436.25" y="331.50" font-size="7.2" text-anchor="end" transform="rotate(-45 436.25 331.50)" fill="#111" style="stroke-width:0.1px">13.6</text>
<rect x="440.82" y="315.00" width="6.80" height="9.10" fill="#000"/>
<text x="445.42" y="331.50" font-size="7.2" text-anchor="end" transform="rotate(-45 445.42 331.50)" fill="#111" style="stroke-width:0.1px">14</text>
<rect x="449.99" y="287.90" width="6.80" height="36.20" fill="#000"/>
<text x="454.59" y="331.50" font-size="7.2" text-anchor="end" transform="rotate(-45 454.59 331.50)" fill="#111" style="stroke-width:0.1px">16</text>
<rect x="459.16" y="317.40" width="6.80" height="6.70" fill="#000"/>
<text x="463.76" y="331.50" font-size="7.2" text-anchor="end" transform="rotate(-45 463.76 331.50)" fill="#111" style="stroke-width:0.1px">17</text>
<rect x="468.33" y="301.50" width="6.80" height="22.60" fill="#000"/>
<text x="472.93" y="331.50" font-size="7.2" text-anchor="end" transform="rotate(-45 472.93 331.50)" fill="#111" style="stroke-width:0.1px">18</text>
<rect x="477.50" y="317.40" width="6.80" height="6.70" fill="#000"/>
<text x="482.10" y="331.50" font-size="7.2" text-anchor="end" transform="rotate(-45 482.10 331.50)" fill="#111" style="stroke-width:0.1px">20</text>
<rect x="486.67" y="315.00" width="6.80" height="9.10" fill="#000"/>
<text x="491.27" y="331.50" font-size="7.2" text-anchor="end" transform="rotate(-45 491.27 331.50)" fill="#111" style="stroke-width:0.1px">21.3</text>
<rect x="495.84" y="312.10" width="6.80" height="12.00" fill="#000"/>
<text x="500.44" y="331.50" font-size="7.2" text-anchor="end" transform="rotate(-45 500.44 331.50)" fill="#111" style="stroke-width:0.1px">22</text>
<rect x="505.01" y="294.40" width="6.80" height="29.70" fill="#000"/>
<text x="509.61" y="331.50" font-size="7.2" text-anchor="end" transform="rotate(-45 509.61 331.50)" fill="#111" style="stroke-width:0.1px">23</text>
<text x="0" y="0" font-size="12.2" text-anchor="middle" transform="translate(411.60 199.10) scale(0.9426 1)" fill="#111">Pt 403 Stage IA MF</text>
<text x="0" y="0" font-size="12.2" text-anchor="middle" transform="translate(416.40 351.90) scale(0.9426 1)" fill="#111">TCR V&#946; subfamily</text>
</svg></body></html>
